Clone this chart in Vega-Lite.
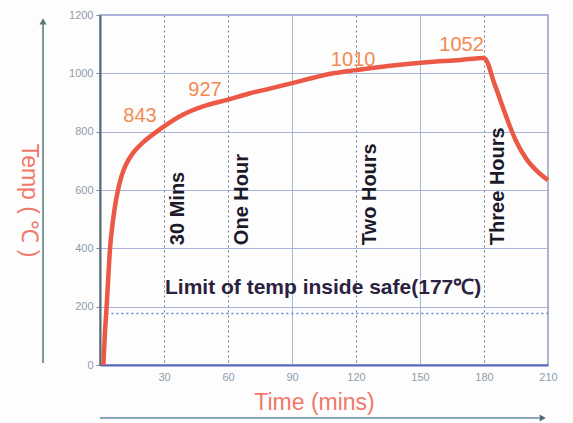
{
  "$schema": "https://vega.github.io/schema/vega-lite/v6.json",
  "width": 448,
  "height": 350,
  "autosize": {"type": "none"},
  "padding": {"left": 100, "top": 15, "right": 25, "bottom": 58},
  "background": "#fdfdfd",
  "config": {
    "view": {"stroke": "#9a98c0", "strokeWidth": 1.5},
    "font": "Liberation Sans"
  },
  "datasets": {
    "curve": [
      {"t": 1.6, "temp": 0},
      {"t": 2.3, "temp": 109},
      {"t": 3.1, "temp": 200},
      {"t": 3.9, "temp": 303},
      {"t": 4.7, "temp": 400},
      {"t": 5.9, "temp": 484},
      {"t": 7.0, "temp": 543},
      {"t": 8.6, "temp": 605},
      {"t": 10.2, "temp": 650},
      {"t": 12.5, "temp": 692},
      {"t": 15.6, "temp": 728},
      {"t": 20.3, "temp": 764},
      {"t": 26.6, "temp": 800},
      {"t": 30, "temp": 818},
      {"t": 39, "temp": 859},
      {"t": 48, "temp": 886},
      {"t": 60, "temp": 910},
      {"t": 70, "temp": 931},
      {"t": 81, "temp": 950},
      {"t": 92, "temp": 970},
      {"t": 100, "temp": 985},
      {"t": 110, "temp": 1001},
      {"t": 120, "temp": 1011},
      {"t": 135, "temp": 1025},
      {"t": 153, "temp": 1038},
      {"t": 169, "temp": 1046},
      {"t": 180, "temp": 1053},
      {"t": 185, "temp": 962},
      {"t": 190, "temp": 860},
      {"t": 195, "temp": 768},
      {"t": 200, "temp": 705},
      {"t": 205, "temp": 664},
      {"t": 210, "temp": 634}
    ],
    "peaks": [
      {"t": 18.75, "temp": 854, "label": "843"},
      {"t": 49.2, "temp": 943, "label": "927"},
      {"t": 118.6, "temp": 1046, "label": "1010"},
      {"t": 169.5, "temp": 1097, "label": "1052"}
    ],
    "marks": [
      {"t": 30, "label": "30 Mins"},
      {"t": 60, "label": "One Hour"},
      {"t": 120, "label": "Two Hours"},
      {"t": 180, "label": "Three Hours"}
    ],
    "one": [{}]
  },
  "layer": [
    {
      "data": {"name": "curve"},
      "mark": {"type": "line", "opacity": 0},
      "encoding": {
        "x": {
          "field": "t",
          "type": "quantitative",
          "scale": {"domain": [0, 210], "nice": false, "zero": false},
          "axis": {
            "values": [0, 15, 30, 45, 60, 75, 90, 105, 120, 135, 150, 165, 180, 195, 210],
            "labelExpr": "datum.value % 30 == 0 && datum.value > 0 ? datum.label : ''",
            "grid": true,
            "gridColor": {"condition": {"test": "datum.value == 30 || datum.value == 60 || datum.value == 120 || datum.value == 180", "value": "#6e7484"}, "value": "#a6bcc4"},
            "gridDash": {"condition": {"test": "datum.value == 30 || datum.value == 60 || datum.value == 120 || datum.value == 180", "value": [2, 3]}, "value": []},
            "gridWidth": 1,
            "ticks": false,
            "labelPadding": 6,
            "labelColor": "#8f9cab",
            "labelFontSize": 11,
            "labelFlush": false,
            "domainColor": "#5a68c0",
            "domainWidth": 2,
            "title": "Time (mins)",
            "titleColor": "#f07868",
            "titleFontSize": 23,
            "titleFontWeight": "normal",
            "titleX": 214,
            "titleY": 37,
            "titleAlign": "center",
            "titleBaseline": "middle"
          }
        },
        "y": {
          "field": "temp",
          "type": "quantitative",
          "scale": {"domain": [0, 1200], "nice": false},
          "axis": {
            "values": [0, 100, 200, 300, 400, 500, 600, 700, 800, 900, 1000, 1100, 1200],
            "labelExpr": "datum.value % 200 == 0 ? datum.label : ''",
            "format": "d",
            "grid": true,
            "gridColor": "#aab2e0",
            "tickSize": 4,
            "tickColor": "#7a8a90",
            "tickOpacity": {"condition": {"test": "datum.value % 200 == 0", "value": 1}, "value": 0},
            "labelPadding": 3,
            "labelColor": "#8f9cab",
            "labelFontSize": 11,
            "labelFlush": false,
            "domainColor": "#4f6b6e",
            "domainWidth": 2,
            "title": "Temp ( ℃ )",
            "titleAngle": 90,
            "titleX": -72,
            "titleY": 185,
            "titleAlign": "center",
            "titleBaseline": "middle",
            "titleColor": "#f07868",
            "titleFontSize": 23,
            "titleFontWeight": "normal"
          }
        }
      }
    },
    {
      "data": {"name": "one"},
      "mark": {"type": "rule", "color": "#6d84d0", "strokeWidth": 1.5, "strokeDash": [2, 3]},
      "encoding": {
        "x": {"datum": 3, "type": "quantitative"},
        "x2": {"datum": 210},
        "y": {"datum": 177, "type": "quantitative"}
      }
    },
    {
      "data": {"name": "curve"},
      "mark": {"type": "line", "color": "#ec5846", "strokeWidth": 4.5, "interpolate": "monotone"},
      "encoding": {
        "x": {"field": "t", "type": "quantitative"},
        "y": {"field": "temp", "type": "quantitative"}
      }
    },
    {
      "data": {"name": "peaks"},
      "mark": {"type": "text", "color": "#f28a52", "fontSize": 20, "align": "center", "baseline": "middle"},
      "encoding": {
        "x": {"field": "t", "type": "quantitative"},
        "y": {"field": "temp", "type": "quantitative"},
        "text": {"field": "label"}
      }
    },
    {
      "data": {"name": "marks"},
      "mark": {"type": "text", "color": "#1c1a28", "fontSize": 20, "fontWeight": "bold", "angle": 270, "align": "left", "baseline": "middle", "dy": 14},
      "encoding": {
        "x": {"field": "t", "type": "quantitative"},
        "y": {"datum": 411, "type": "quantitative"},
        "text": {"field": "label"}
      }
    },
    {
      "data": {"name": "one"},
      "mark": {"type": "text", "color": "#2a2240", "fontSize": 21, "fontWeight": "bold", "align": "left", "baseline": "middle", "dx": 1},
      "encoding": {
        "x": {"datum": 30, "type": "quantitative"},
        "y": {"datum": 264, "type": "quantitative"},
        "text": {"value": "Limit of temp inside safe(177℃)"}
      }
    },
    {
      "data": {"name": "one"},
      "mark": {"type": "rule", "color": "#4f7a78", "strokeWidth": 1.5},
      "encoding": {
        "x": {"datum": -26.7, "type": "quantitative"},
        "y": {"datum": 7, "type": "quantitative"},
        "y2": {"datum": 1170}
      }
    },
    {
      "data": {"name": "one"},
      "mark": {"type": "point", "shape": "triangle-up", "filled": true, "color": "#4f7a78", "size": 50, "opacity": 1},
      "encoding": {
        "x": {"datum": -26.7, "type": "quantitative"},
        "y": {"datum": 1178, "type": "quantitative"}
      }
    },
    {
      "data": {"name": "one"},
      "mark": {"type": "rule", "color": "#6a86a8", "strokeWidth": 1.5},
      "encoding": {
        "x": {"datum": 0, "type": "quantitative"},
        "x2": {"datum": 206},
        "y": {"datum": -182, "type": "quantitative"}
      }
    },
    {
      "data": {"name": "one"},
      "mark": {"type": "point", "shape": "triangle-right", "filled": true, "color": "#4f6a70", "size": 50, "opacity": 1},
      "encoding": {
        "x": {"datum": 207.5, "type": "quantitative"},
        "y": {"datum": -182, "type": "quantitative"}
      }
    }
  ]
}
